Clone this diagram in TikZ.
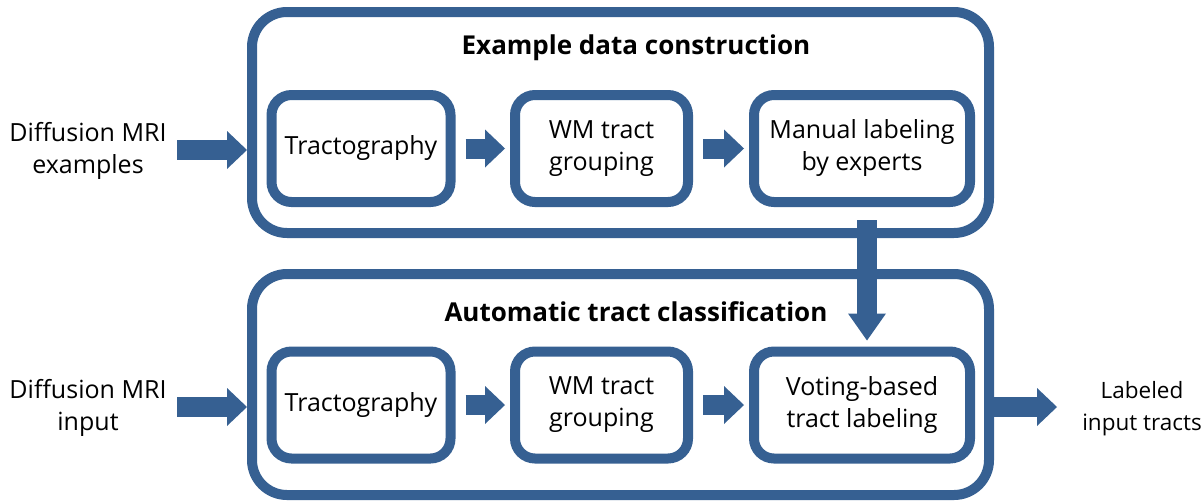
\documentclass[tikz,border=0pt]{standalone}
\usepackage{fontspec}
\setmainfont{Open Sans}
\usepackage{tikz}
\usetikzlibrary{arrows.meta, positioning, calc}
\definecolor{boxblue}{RGB}{54,96,146}

\begin{document}
\begin{tikzpicture}[x=1pt, y=-1pt,
    every node/.style={font=\fontsize{25}{32}\selectfont, align=center},
    bigbox/.style={draw=boxblue, line width=10pt, rounded corners=35pt, minimum width=737pt, minimum height=221pt},
    stepbox/.style={draw=boxblue, fill=white, line width=10pt, rounded corners=20pt, minimum height=107pt},
    blockarrow/.style={draw=boxblue, line width=20pt, -{Triangle[width=38pt, length=#1, line width=0pt]}},
    blockarrow/.default=20pt,
    title/.style={font=\fontsize{26}{32}\selectfont\bfseries}]
        \useasboundingbox (0,0) rectangle (1204,501);

        % Outer frames
        \node[bigbox] (build) at (620.5,122.5) {};
        \node[bigbox] (auto) at (620.5,384.5) {};
        \node[title] (buildtitle) at (636,48) {Example data construction};
        \node[title] (autotitle) at (636,312) {Automatic tract classification};

        % Upper row
        \node[stepbox, minimum width=179pt] (tract1) at (361,148.5) {Tractography};
        \node[stepbox, minimum width=173pt] (group1) at (601.5,148.5) {WM tract\\grouping};
        \node[stepbox, minimum width=216pt] (manual) at (862,148.5) {Manual labeling\\by experts};

        % Lower row
        \node[stepbox, minimum width=179pt] (tract2) at (361,405) {Tractography};
        \node[stepbox, minimum width=173pt] (group2) at (601.5,405) {WM tract\\grouping};
        \node[stepbox, minimum width=216pt] (vote) at (862,405) {Voting-based\\tract labeling};

        % Inputs and output
        \node (examples) at (88,151) {Diffusion MRI\\examples};
        \node (input) at (88,408) {Diffusion MRI\\input};
        \node[font=\fontsize{22.5}{32}\selectfont] (labeled) at (1142,409) {Labeled\\input tracts};
        \coordinate (in1) at (177,150);
        \coordinate (in2) at (177,407);
        \coordinate (out) at (1057,407);

        \draw[blockarrow] (in1) -- (in1 -| build.west);
        \draw[blockarrow] (in2) -- (in2 -| auto.west);
        \draw[blockarrow, shorten <=10pt, shorten >=5pt] (tract1) -- (group1);
        \draw[blockarrow, shorten <=10pt, shorten >=5pt] (group1) -- (manual);
        \draw[blockarrow, shorten <=10pt, shorten >=5pt] (tract2) -- (group2);
        \draw[blockarrow, shorten <=10pt, shorten >=5pt] (group2) -- (vote);
        \draw[blockarrow] (out -| auto.east) -- (out);
        \draw[blockarrow=27pt, shorten <=13pt, shorten >=6pt] ([xshift=5pt]manual.south) -- ([xshift=5pt]vote.north);
\end{tikzpicture}
\end{document}
